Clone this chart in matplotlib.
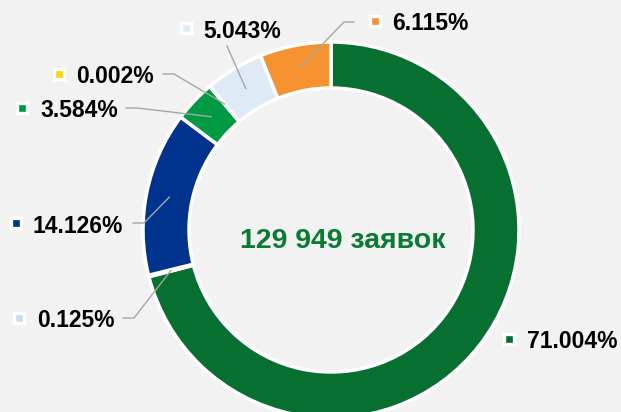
import matplotlib as mpl
mpl.use('Agg')
import matplotlib.pyplot as plt
import numpy as np

# data
labels = ['71.004%', '0.125%', '14.126%', '3.584%', '0.002%', '5.043%', '6.115%']
shares = [71.004, 0.125, 14.126, 3.584, 0.002, 5.043, 6.115]
colors = ['#077030', '#DDEBF7', '#00338D', '#009A44', '#FFD400', '#DEEBF7', '#F5912F']
marker_colors = ['#077030', '#C5DDF1', '#00338D', '#009A44', '#FFD400', '#DEEBF7', '#F5912F']
center_text = '129 949 заявок'

W, H = 621, 412
BG = '#F2F2F2'

def py(y):  # pixel row -> data y (y up)
    return H - y

# layout (pixels): text left x, text centre y, marker x, elbow, line end
text_pos = [(527, 340), (37, 319), (33, 225), (40, 109), (76, 75), (203, 30), (392, 22)]
marker_pos = [(509, 339), (19, 318), (16, 223), (22, 108), (59, 74), (186, 28), (375, 21)]
leaders = [None, [(134, 318), (123, 318)], [(144, 223), (133, 223)],
           [(137, 108), (126, 108)], [(174, 74), (163, 74)],
           [(227, 46)], [(344, 22), (354, 22)]]

fig = plt.figure(figsize=(W / 100, H / 100), dpi=100, facecolor=BG)
ax = fig.add_axes([0, 0, 1, 1])
ax.set_facecolor(BG)

cx, cy, R = 331, 230, 188
wedges, _ = ax.pie(shares, colors=colors, startangle=90, counterclock=False,
                   radius=R, center=(cx, py(cy)), frame=True,
                   wedgeprops=dict(width=46, edgecolor='white', linewidth=2.5))

ax.set_xlim(0, W)
ax.set_ylim(0, H)
ax.set_aspect('equal')
ax.axis('off')

for i, w in enumerate(wedges):
    if leaders[i] is not None:
        ang = np.deg2rad((w.theta1 + w.theta2) / 2)
        r = R - 23
        xs = [cx + r * np.cos(ang)] + [p[0] for p in leaders[i]]
        ys = [py(cy) + r * np.sin(ang)] + [py(p[1]) for p in leaders[i]]
        ax.plot(xs, ys, color='#A6A6A6', linewidth=1.0, zorder=3)
    tx, ty = text_pos[i]
    ax.text(tx, py(ty) - 8.3, labels[i], fontsize=16.5, fontweight='bold',
            family='Liberation Sans', color='black', ha='left', va='baseline')
    mx, my = marker_pos[i]
    ax.plot(mx, py(my), marker='s', markersize=7.7, markerfacecolor=marker_colors[i],
            markeredgecolor='white', markeredgewidth=2.4, linestyle='none')

ax.text(342.5, py(248), center_text, fontsize=20.5, fontweight='bold',
        family='Liberation Sans', color='#0B7A33', ha='center', va='baseline')

plt.savefig('out.png', dpi=100, facecolor=BG)
